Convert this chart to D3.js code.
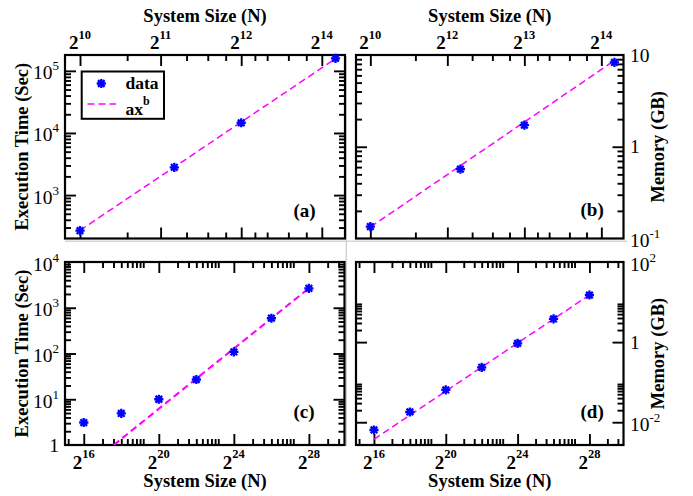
<!DOCTYPE html>
<html><head><meta charset="utf-8">
<script src="https://cdn.jsdelivr.net/npm/d3@7"></script>
<style>html,body{margin:0;padding:0;background:#fff}svg{display:block}</style>
</head><body>
<script>
// ---------- data ----------
const topN = [1024, 2304, 4096, 9216];
const timeA = [267, 2800, 14600, 159000];
const memB = [0.135, 0.57, 1.72, 8.3];
const fitA_N = [1024, 9216], fitA_V = [270, 157000];
const fitB_N = [1024, 9216], fitB_V = [0.133, 8.7];

const botN = [65536, 262144, 1048576, 4194304, 16777216, 67108864, 268435456];
const timeC = [3.1, 4.9, 10, 27, 108, 590, 2660];
const memD = [0.0064, 0.018, 0.064, 0.235, 0.93, 3.8, 15];
const fitC_N = [198000, 268435456], fitC_V = [1, 2660];
const fitD_N = [65536, 268435456], fitD_V = [0.00375, 15];

// ---------- ticks ----------
const topMajor = [1024, 2048, 4096, 8192];
const topLabelsA = ["2^10", "2^11", "2^12", "2^14"];
const topLabelsB = ["2^10", "2^12", "2^13", "2^14"];
const topMinor = [1536, 2560, 3072, 3584, 4608, 5120, 6144, 7168];
const botMajor = [65536, 1048576, 16777216, 268435456];
const botLabels = ["2^16", "2^20", "2^24", "2^28"];
const botMinorBase = [4096, 65536, 1048576, 16777216, 268435456];
const minorMult = [2, 3, 4, 5, 6, 7, 8, 9];

const yMajorA = [1e3, 1e4, 1e5], yLabelsA = ["10^3", "10^4", "10^5"], yMinorBaseA = [100, 1e3, 1e4, 1e5];
const yMajorB = [0.1, 1, 10], yLabelsB = ["10^-1", "1", "10"], yMinorBaseB = [0.1, 1];
const yMajorC = [1, 10, 100, 1000, 10000], yLabelsC = ["1", "10^1", "10^2", "10^3", "10^4"], yMinorBaseC = [1, 10, 100, 1000];
const yMajorD = [0.01, 1, 100], yLabelsD = ["10^-2", "1", "10^2"], yMinorBaseD = [1e-4, 0.01, 1];

// ---------- layout ----------
const W = 693, H = 496;
const svg = d3.select("body").append("svg").attr("width", W).attr("height", H)
  .attr("font-family", "'Liberation Serif','Times New Roman',serif");

const panels = [
  {id: "a", box: {l: 65, r: 345, t: 55, b: 238.5}, xd: [900, 10000], yd: [200, 1.8e5],
   xs: topN, ys: timeA, fn: fitA_N, fv: fitA_V, xMaj: topMajor, xLab: topLabelsA, xMin: topMinor, xLabSide: "top",
   yMaj: yMajorA, yLab: yLabelsA, yMinBase: yMinorBaseA, yLabSide: "left", lab: "(a)", lx: 293.5, ly: 217, fw: 1.5},
  {id: "b", box: {l: 356, r: 623.5, t: 55, b: 238.5}, xd: [900, 10000], yd: [0.1, 10],
   xs: topN, ys: memB, fn: fitB_N, fv: fitB_V, xMaj: topMajor, xLab: topLabelsB, xMin: topMinor, xLabSide: "top",
   yMaj: yMajorB, yLab: yLabelsB, yMinBase: yMinorBaseB, yLabSide: "right", lab: "(b)", lx: 580.5, ly: 216, fw: 1.5},
  {id: "c", box: {l: 65, r: 344.5, t: 262, b: 445}, xd: [32768, 1e9], yd: [1, 1e4],
   xs: botN, ys: timeC, fn: fitC_N, fv: fitC_V, xMaj: botMajor, xLab: botLabels, xMinBase: botMinorBase, xLabSide: "bottom",
   yMaj: yMajorC, yLab: yLabelsC, yMinBase: yMinorBaseC, yLabSide: "left", lab: "(c)", lx: 293.5, ly: 418, fw: 2.1},
  {id: "d", box: {l: 356, r: 623.5, t: 262, b: 445}, xd: [32768, 1e9], yd: [0.0027, 100],
   xs: botN, ys: memD, fn: fitD_N, fv: fitD_V, xMaj: botMajor, xLab: botLabels, xMinBase: botMinorBase, xLabSide: "bottom",
   yMaj: yMajorD, yLab: yLabelsD, yMinBase: yMinorBaseD, yLabSide: "right", lab: "(d)", lx: 580.5, ly: 418, fw: 1.5}
];

// faint separators seen in the reference
svg.append("line").attr("x1", 65).attr("x2", 627).attr("y1", 241.3).attr("y2", 241.3)
  .attr("stroke", "#d4d4d4").attr("stroke-width", 1.5);
svg.append("line").attr("x1", 346.3).attr("x2", 346.3).attr("y1", 56).attr("y2", 446)
  .attr("stroke", "#d4d4d4").attr("stroke-width", 1.5);

function mults(bases, dom) {
  const out = [];
  bases.forEach(b => minorMult.forEach(k => { const v = b * k; if (v > dom[0] * 1.01 && v < dom[1] * 0.99) out.push(v); }));
  return out;
}

function richText(g, x, y, str, o) {
  const parts = str.split("^");
  const t = g.append("text").attr("x", x).attr("y", y).attr("text-anchor", o.anchor)
    .attr("font-size", o.size).attr("font-weight", o.weight);
  t.append("tspan").text(parts[0]);
  if (parts.length > 1) t.append("tspan").attr("dy", -o.raise).attr("font-size", o.sup).text(parts[1]);
  return t;
}

function star(g, cx, cy, r) {
  const d = r * 0.72;
  g.append("path")
    .attr("d", `M${cx},${cy - r}L${cx},${cy + r}M${cx - r},${cy}L${cx + r},${cy}M${cx - d},${cy - d}L${cx + d},${cy + d}M${cx - d},${cy + d}L${cx + d},${cy - d}`)
    .attr("stroke", "#0000ff").attr("stroke-width", 2.3).attr("fill", "none");
}

const MAJ = 11, MIN = 6;

panels.forEach(p => {
  const B = p.box;
  const x = d3.scaleLog().base(2).domain(p.xd).range([B.l, B.r]);
  const y = d3.scaleLog().domain(p.yd).range([B.b, B.t]);
  const g = svg.append("g");
  const xMinor = p.xMin ? p.xMin : mults(p.xMinBase, p.xd);
  const yMinor = mults(p.yMinBase, p.yd);

  const styleAxis = sel => { sel.select(".domain").remove(); sel.selectAll("line").attr("stroke", "#000").attr("stroke-width", 1.9); sel.selectAll("text").remove(); };
  // inward ticks on all four sides
  [[d3.axisTop, B.t], [d3.axisBottom, B.b]].forEach(([ax, pos]) => {
    g.append("g").attr("transform", `translate(0,${pos})`).call(ax(x).tickValues(p.xMaj).tickSize(-MAJ).tickFormat("")).call(styleAxis);
    g.append("g").attr("transform", `translate(0,${pos})`).call(ax(x).tickValues(xMinor).tickSize(-MIN).tickFormat("")).call(styleAxis);
  });
  [[d3.axisLeft, B.l], [d3.axisRight, B.r]].forEach(([ax, pos]) => {
    g.append("g").attr("transform", `translate(${pos},0)`).call(ax(y).tickValues(p.yMaj.filter(v => v > p.yd[0] * 1.01 && v < p.yd[1] * 0.99)).tickSize(-MAJ).tickFormat("")).call(styleAxis);
    g.append("g").attr("transform", `translate(${pos},0)`).call(ax(y).tickValues(yMinor).tickSize(-MIN).tickFormat("")).call(styleAxis);
  });

  // frame
  g.append("rect").attr("x", B.l).attr("y", B.t).attr("width", B.r - B.l).attr("height", B.b - B.t)
    .attr("fill", "none").attr("stroke", "#000").attr("stroke-width", 2.2);

  // x tick labels
  p.xMaj.forEach((v, i) => {
    const yy = p.xLabSide === "top" ? B.t - 6 : B.b + 23.5;
    richText(g, x(v), yy, p.xLab[i], {anchor: "middle", size: 19, weight: "bold", sup: 12.5, raise: 10.5});
  });
  // y tick labels
  p.yMaj.forEach((v, i) => {
    const s = p.yLab[i];
    const yy = y(v) + (s.includes("^") ? 8.5 : 6.5);
    if (p.yLabSide === "left") richText(g, B.l - 6, yy, s, {anchor: "end", size: 19.5, weight: "normal", sup: 13, raise: 9});
    else richText(g, B.r + 6.5, yy, s, {anchor: "start", size: 19.5, weight: "normal", sup: 13, raise: 9});
  });

  // clip
  const cid = "clip" + p.id;
  svg.append("clipPath").attr("id", cid).append("rect").attr("x", B.l).attr("y", B.t).attr("width", B.r - B.l).attr("height", B.b - B.t);

  // fit line
  const line = d3.line().x((d, i) => x(p.fn[i])).y((d, i) => y(p.fv[i]));
  g.append("path").attr("d", line(p.fn)).attr("clip-path", `url(#${cid})`)
    .attr("fill", "none").attr("stroke", "#ff00ff").attr("stroke-width", p.fw).attr("stroke-dasharray", "7,4");

  // data
  p.xs.forEach((v, i) => star(g, x(v), y(p.ys[i]), 4.6));

  // panel label
  g.append("text").attr("x", p.lx).attr("y", p.ly).attr("font-size", 19).attr("font-weight", "bold").text(p.lab);
});

// axis titles
const titleOpts = sel => sel.attr("font-size", 18.5).attr("font-weight", "bold").attr("text-anchor", "middle");
[[205, 21.5], [489.75, 21.5], [205, 486.5], [489.75, 486.5]].forEach(([tx, ty]) =>
  svg.append("text").attr("x", tx).attr("y", ty).call(titleOpts).text("System Size (N)"));
[[27.5, 146.7], [27.5, 353.5]].forEach(([tx, ty]) =>
  svg.append("text").attr("transform", `translate(${tx},${ty}) rotate(-90)`).call(titleOpts).text("Execution Time (Sec)"));
[[664, 146.7], [664, 353.5]].forEach(([tx, ty]) =>
  svg.append("text").attr("transform", `translate(${tx},${ty}) rotate(-90)`).call(titleOpts).text("Memory (GB)"));

// legend (panel a)
const lg = svg.append("g");
lg.append("rect").attr("x", 81.7).attr("y", 71.5).attr("width", 82.3).attr("height", 47.3)
  .attr("fill", "#fff").attr("stroke", "#000").attr("stroke-width", 2);
star(lg, 101.3, 83.5, 4.6);
lg.append("text").attr("x", 125.5).attr("y", 89).attr("font-size", 17.5).attr("font-weight", "bold").text("data");
lg.append("line").attr("x1", 87.5).attr("x2", 116).attr("y1", 104).attr("y2", 104)
  .attr("stroke", "#ff00ff").attr("stroke-width", 1.5).attr("stroke-dasharray", "7,4");
richText(lg, 125.5, 114.5, "ax^b", {anchor: "start", size: 17.5, weight: "bold", sup: 12, raise: 10});
</script>
</body></html>
